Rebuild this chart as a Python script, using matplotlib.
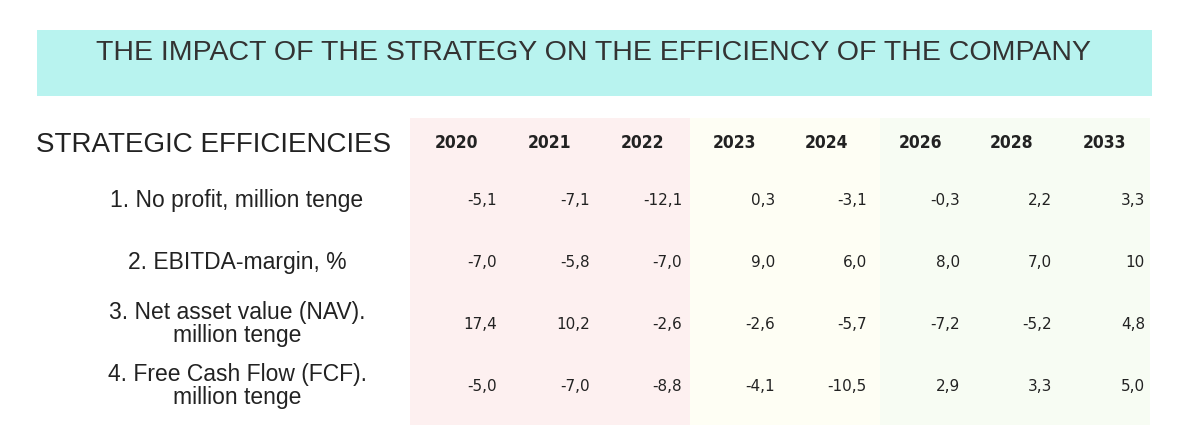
import matplotlib.pyplot as plt
from matplotlib.patches import Rectangle

title = 'THE IMPACT OF THE STRATEGY ON THE EFFICIENCY OF THE COMPANY'
header = 'STRATEGIC EFFICIENCIES'
years = ['2020', '2021', '2022', '2023', '2024', '2026', '2028', '2033']
rows = ['1. No profit, million tenge',
        '2. EBITDA-margin, %',
        '3. Net asset value (NAV).\nmillion tenge',
        '4. Free Cash Flow (FCF).\nmillion tenge']
values = [
    ['-5,1', '-7,1', '-12,1', '0,3', '-3,1', '-0,3', '2,2', '3,3'],
    ['-7,0', '-5,8', '-7,0', '9,0', '6,0', '8,0', '7,0', '10'],
    ['17,4', '10,2', '-2,6', '-2,6', '-5,7', '-7,2', '-5,2', '4,8'],
    ['-5,0', '-7,0', '-8,8', '-4,1', '-10,5', '2,9', '3,3', '5,0'],
]

fig = plt.figure(figsize=(11.9, 4.36), dpi=100)
ax = fig.add_axes([0, 0, 1, 1])
ax.set_xlim(0, 1190)
ax.set_ylim(436, 0)
ax.axis('off')

# title band
ax.add_patch(Rectangle((37, 30), 1115, 66, color='#b8f3ef', lw=0))
ax.text(594, 53, title, ha='center', va='center', fontsize=20.5, color='#333333',
        family='Liberation Sans')

# column background zones
ax.add_patch(Rectangle((410, 118), 280, 307, color='#fdf0f0', lw=0))
ax.add_patch(Rectangle((690, 118), 190, 307, color='#fefef4', lw=0))
ax.add_patch(Rectangle((880, 118), 270, 307, color='#f7fcf3', lw=0))

ax.text(36, 145, header, ha='left', va='center', fontsize=20, color='#222222',
        family='Liberation Sans')

col_x = [457, 550, 642, 735, 827, 920, 1012, 1105]
for x, y in zip(col_x, years):
    ax.text(x, 143, y, ha='center', va='center', fontsize=12.5, fontweight='bold',
            family='DejaVu Sans', fontstretch='condensed', color='#222222')

row_y = [200, 262, 324, 386]
for ry, label, vals in zip(row_y, rows, values):
    ax.text(237, ry, label, ha='center', va='center', fontsize=16.5,
            color='#222222', family='Liberation Sans', linespacing=1.0)
    for x, v in zip(col_x, vals):
        ax.text(x + 40, ry, v, ha='right', va='center', fontsize=11,
                family='DejaVu Sans', color='#222222')

fig.savefig('out.png', dpi=100, facecolor='white')
